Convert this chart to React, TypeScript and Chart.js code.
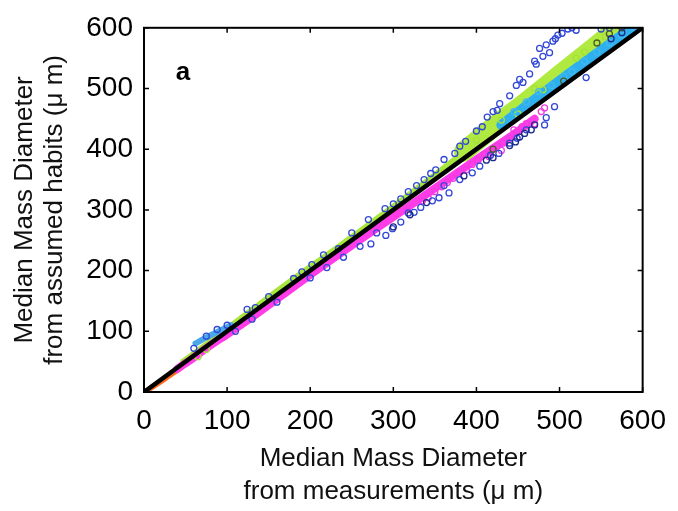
import React, { useEffect, useRef } from "react";
import { Chart, registerables } from "chart.js";

Chart.register(...registerables);

// Axis ticks and labels
const tickValues = [0, 100, 200, 300, 400, 500, 600];
const xTitle = ["Median Mass Diameter", "from measurements (\u03bc m)"];
const yTitle = ["Median Mass Diameter", "from assumed habits (\u03bc m)"];
const panelLabel = "a";

// 1:1 reference line
const oneToOne = [[0, 0], [600, 600]];

// Dense clouds (read as band centrelines)
const magentaBand = [[40, 38], [60, 57], [80, 77], [100, 95], [130, 123], [160, 153], [200, 193], [240, 232], [280, 270], [320, 307], [360, 345], [400, 383], [440, 420], [470, 450]];
const greenLowBand = [[48, 50], [70, 72], [100, 103], [130, 134], [160, 165], [200, 205], [240, 244], [280, 284], [320, 325], [360, 367], [400, 410]];
const greenHighBand = [[385, 396], [420, 436], [460, 478], [500, 522], [540, 566], [580, 610]];
const cyanBand = [[430, 440], [470, 482], [510, 523], [550, 563], [590, 603]];
const cyanLowBand = [[62, 80], [75, 90], [90, 100], [105, 110]];
const orangeBand = [[2, 1], [15, 12], [30, 26], [45, 40]];

// Individual open-circle points
const bluePts = [[503, 591], [510, 598], [515, 600], [520, 596], [498, 588], [492, 578], [476, 566], [484, 572], [488, 559], [480, 553], [472, 540], [464, 524], [456, 510], [448, 505], [440, 488], [428, 475], [425, 464], [420, 462], [413, 453], [407, 437], [400, 430], [387, 413], [380, 405], [374, 393], [361, 383], [351, 366], [345, 360], [337, 350], [328, 340], [318, 330], [309, 318], [300, 310], [290, 302], [270, 284], [250, 262], [234, 236], [216, 226], [202, 210], [190, 198], [180, 187], [150, 157], [134, 139], [124, 136], [100, 110], [88, 103], [75, 92], [60, 72], [550, 598], [560, 600], [495, 582], [470, 545], [452, 515], [532, 518], [494, 470], [482, 440], [484, 452], [460, 432], [449, 418], [440, 410], [427, 393], [417, 390], [404, 372], [395, 361], [380, 350], [367, 328], [361, 340], [355, 320], [347, 315], [333, 304], [325, 296], [318, 295], [309, 280], [299, 269], [291, 258], [280, 262], [273, 244], [260, 240], [240, 222], [220, 205], [200, 188], [160, 148], [130, 120], [110, 100]];
const navyPts = [[452, 420], [458, 426], [440, 406], [447, 412], [466, 432], [470, 440], [412, 382], [420, 386], [562, 582], [575, 592], [300, 272], [320, 292], [340, 312], [385, 356]];
const magentaPts = [[470, 442], [460, 442], [455, 437], [448, 428], [440, 418], [432, 410], [425, 405], [418, 398], [410, 392], [402, 382], [395, 375], [388, 366], [380, 362], [372, 352], [365, 345], [358, 338], [350, 330], [342, 320], [335, 315], [478, 462], [482, 468], [445, 432], [430, 398], [415, 388]];
const greenPts = [[430, 448], [470, 500], [520, 550], [555, 585], [480, 498], [400, 415], [450, 458], [530, 560], [565, 600], [75, 70], [65, 58]];
const cyanPts = [[505, 520], [515, 528], [530, 545], [545, 560], [560, 575], [575, 588], [590, 600], [490, 505], [475, 495], [460, 478], [445, 462]];
const olivePts = [[560, 590], [545, 575], [575, 600], [505, 512], [420, 400]];

const FONT = "Liberation Sans";

const toXY = (arr: number[][]) => arr.map(([x, y]) => ({ x, y }));

const band = (data: number[][], color: string, width: number, order: number) => ({
  data: toXY(data),
  showLine: true,
  borderColor: color,
  backgroundColor: color,
  borderWidth: width,
  pointRadius: 0,
  borderCapStyle: "round" as const,
  borderJoinStyle: "round" as const,
  tension: 0.3,
  order,
});

const circles = (data: number[][], color: string, order: number) => ({
  data: toXY(data),
  showLine: false,
  borderColor: color,
  backgroundColor: "rgba(0,0,0,0)",
  borderWidth: 1.3,
  pointRadius: 3,
  pointStyle: "circle" as const,
  order,
});

const framePlugin = {
  id: "frame",
  afterDatasetsDraw(chart: any) {
    const { ctx, chartArea, scales } = chart;
    const { left, right, top, bottom } = chartArea;
    const x = scales.x;
    const y = scales.y;
    ctx.save();
    ctx.strokeStyle = "#000";
    ctx.lineWidth = 2;
    ctx.strokeRect(left, top, right - left, bottom - top);
    ctx.lineWidth = 1.5;
    const tl = 5;
    tickValues.forEach((v) => {
      const px = x.getPixelForValue(v);
      const py = y.getPixelForValue(v);
      ctx.beginPath();
      ctx.moveTo(px, bottom);
      ctx.lineTo(px, bottom - tl);
      ctx.moveTo(px, top);
      ctx.lineTo(px, top + tl);
      ctx.moveTo(left, py);
      ctx.lineTo(left + tl, py);
      ctx.moveTo(right, py);
      ctx.lineTo(right - tl, py);
      ctx.stroke();
    });
    ctx.fillStyle = "#000";
    ctx.font = "bold 26px 'Liberation Sans', sans-serif";
    ctx.textAlign = "center";
    ctx.textBaseline = "middle";
    ctx.fillText(panelLabel, left + 39, top + 45);
    ctx.restore();
  },
};

export default function App() {
  const ref = useRef<HTMLCanvasElement | null>(null);
  useEffect(() => {
    if (!ref.current) return;
    const chart = new Chart(ref.current, {
      type: "scatter",
      data: {
        datasets: [
          band(oneToOne, "#000000", 4.5, 0),
          circles(navyPts, "#1c2a8a", 1),
          circles(olivePts, "#4d5a2a", 1),
          circles(bluePts, "#3348d6", 2),
          circles(magentaPts, "#f03ce0", 3),
          circles(cyanPts, "#40b8f0", 4),
          circles(greenPts, "#a6e03a", 5),
          band(magentaBand, "#ff3ce8", 8, 6),
          band(cyanBand, "#2fb0ee", 10, 7),
          band(cyanLowBand, "#4aa8e8", 6, 8),
          band(greenHighBand, "#b0ea40", 20, 9),
          band(greenLowBand, "#a8e63c", 7, 10),
          band(orangeBand, "#ff6a1a", 5, 11),
        ] as any,
      },
      options: {
        responsive: false,
        animation: false,
        layout: { padding: { left: 0, top: 23, right: 31, bottom: 0 } },
        plugins: { legend: { display: false }, tooltip: { enabled: false } },
        scales: {
          x: {
            type: "linear",
            min: 0,
            max: 600,
            grid: { display: false, drawTicks: false },
            border: { display: false },
            ticks: { stepSize: 100, autoSkip: false, color: "#000", padding: 12, font: { family: FONT, size: 28 } },
            title: {
              display: true,
              text: xTitle,
              color: "#111",
              font: { family: FONT, size: 26, lineHeight: 1.25 },
              padding: { top: 0, bottom: 3 },
            },
            afterFit: (s: any) => {
              s.height = 119;
            },
          },
          y: {
            type: "linear",
            min: 0,
            max: 600,
            grid: { display: false, drawTicks: false },
            border: { display: false },
            ticks: { stepSize: 100, autoSkip: false, color: "#000", padding: 11, font: { family: FONT, size: 28 } },
            title: {
              display: true,
              text: yTitle,
              color: "#111",
              font: { family: FONT, size: 26, lineHeight: 1.15 },
              padding: { top: 10, bottom: 0 },
            },
            afterFit: (s: any) => {
              s.width = 144;
            },
          },
        },
      } as any,
      plugins: [framePlugin],
    });
    return () => chart.destroy();
  }, []);
  return (
    <div style={{ position: "absolute", left: 0, top: 0, width: 678, height: 511, background: "#fff" }}>
      <canvas ref={ref} width={678} height={511} />
    </div>
  );
}
